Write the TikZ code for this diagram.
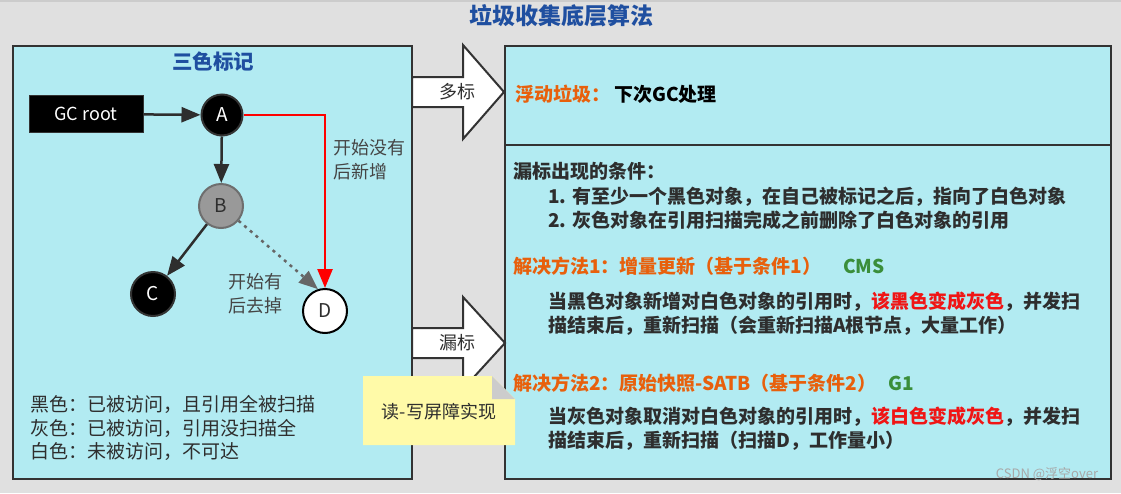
\documentclass[tikz,border=0pt]{standalone}
\usepackage{fontspec}
\setmainfont{Noto Sans CJK SC}
\usetikzlibrary{arrows.meta}
\definecolor{bgc}{HTML}{E0E0E0}
\definecolor{panelc}{HTML}{B2EBF2}
\definecolor{edgec}{HTML}{333333}
\definecolor{darkc}{HTML}{2E2E2E}
\definecolor{labelc}{HTML}{454545}
\definecolor{titlec}{HTML}{1F4FA0}
\definecolor{orangec}{HTML}{E8600C}
\definecolor{greenc}{HTML}{3A8E3A}
\definecolor{redc}{HTML}{FF0000}
\definecolor{redtxt}{HTML}{F01515}
\definecolor{notec}{HTML}{FFFAA8}
\definecolor{foldc}{HTML}{CCCCCC}
\definecolor{bgray}{HTML}{999999}
\definecolor{bedge}{HTML}{6E6E6E}
\definecolor{dotc}{HTML}{666666}
\definecolor{markc}{HTML}{A8A8A8}
\tikzset{
  panel/.style={draw=edgec, line width=2pt, fill=panelc},
  body/.style={font=\fontsize{19}{23.5}\selectfont, text=darkc, inner sep=0pt, anchor=west, align=left},
  bodyb/.style={body, font=\fontsize{19}{23.5}\selectfont\bfseries},
  circ/.style={circle, minimum size=44pt, inner sep=0pt, line width=2pt, font=\fontsize{19}{19}\selectfont},
  tip/.style={-{Triangle[length=19pt,width=15pt]}},
  arr/.style={tip, line width=2.5pt, draw=darkc},
  blockarrow/.style={fill=white, draw=edgec, line width=2pt, line join=miter},
  lbl/.style={font=\fontsize{18}{24}\selectfont, text=labelc, inner sep=0pt, align=left, anchor=west}
}
\begin{document}
\begin{tikzpicture}[x=1pt,y=-1pt]
\useasboundingbox (0,0) rectangle (1121,493);
\fill[bgc] (0,0) rectangle (1121,493);
\draw[foldc, line width=2pt] (0,1) -- (1121,1);

% title
\node[font=\fontsize{23}{23}\selectfont\bfseries, text=titlec, inner sep=0pt] (title) at (561,16) {垃圾收集底层算法};

% panels
\draw[panel] (13,46) rectangle (412,479);
\draw[panel] (505,46) rectangle (1111,145);
\draw[panel] (505,145) rectangle (1111,479);

% left panel
\node[font=\fontsize{20.5}{20.5}\selectfont\bfseries, text=titlec, inner sep=0pt] (sub) at (213,62) {三色标记};
\node[fill=black, draw=edgec, line width=1pt, minimum width=114pt, minimum height=37pt, text=white, font=\fontsize{18}{18}\selectfont, inner sep=0pt] (gc) at (86,114) {GC root};
\node[circ, fill=black, draw=edgec, minimum size=41pt, text=white] (A) at (222,115) {A};
\node[circ, fill=bgray, draw=bedge, text=darkc] (B) at (221,206) {B};
\node[circ, fill=black, draw=edgec, text=white] (C) at (153,294) {C};
\node[circ, fill=white, draw=black, text=darkc] (D) at (325,311) {D};

\draw[arr] (gc) -- (A);
\draw[arr] (A) -- (B);
\draw[arr] (B) -- (C);
\draw[tip, line width=2.5pt, draw=dotc, dash pattern=on 3pt off 4.5pt] (B.-40) -- (D.108);
\draw[tip, line width=2.5pt, draw=redc] (A.east) -| (D.north);

\node[lbl] (l1) at (333,160) {开始没有\\后新增};
\node[lbl] (l2) at (228,294) {开始有\\后去掉};

\node[body] (legend) at (30,428) {黑色：已被访问，且引用全被扫描\\灰色：已被访问，引用没扫描全\\白色：未被访问，不可达};

% block arrows
\filldraw[blockarrow] (412,77) -- (463,77) -- (463,45) -- (504,92) -- (463,139) -- (463,107) -- (412,107) -- cycle;
\node[font=\fontsize{18}{18}\selectfont, text=darkc, inner sep=0pt] (duo) at (457,92) {多标};
\filldraw[blockarrow] (412,328) -- (463,328) -- (463,297) -- (505,343) -- (463,389) -- (463,358) -- (412,358) -- cycle;
\node[font=\fontsize{18}{18}\selectfont, text=darkc, inner sep=0pt] (lou) at (457,343) {漏标};

% top right
\node[bodyb, text=black] (fl) at (515,94) {{\color{orangec}浮动垃圾：}\hspace{4pt}下次GC处理};

% bottom right
\node[bodyb] (cond) at (513,171) {漏标出现的条件：};
\node[bodyb] (c1) at (548,197) {1. 有至少一个黑色对象，在自己被标记之后，指向了白色对象};
\node[bodyb] (c2) at (548,220) {2. 灰色对象在引用扫描完成之前删除了白色对象的引用};
\node[bodyb, text=orangec] (m1) at (513,266) {解决方法1：增量更新（基于条件1）};
\node[bodyb, text=greenc] (cms) at (843,266) {CMS};
\node[bodyb] (m1a) at (548,302) {当黑色对象新增对白色对象的引用时，{\color{redtxt}该黑色变成灰色}，并发扫};
\node[bodyb] (m1b) at (548,326) {描结束后，重新扫描（会重新扫描A根节点，大量工作）};
\node[bodyb, text=orangec] (m2) at (513,383) {解决方法2：原始快照-SATB（基于条件2）};
\node[bodyb, text=greenc] (g1) at (888,383) {G1};
\node[bodyb] (m2a) at (548,417) {当灰色对象取消对白色对象的引用时，{\color{redtxt}该白色变成灰色}，并发扫};
\node[bodyb] (m2b) at (548,441) {描结束后，重新扫描（扫描D，工作量小）};

% note
\fill[notec] (363,376) -- (492,376) -- (515,399) -- (515,445) -- (363,445) -- cycle;
\fill[foldc] (492,376) -- (492,399) -- (515,399) -- cycle;
\node[font=\fontsize{18}{18}\selectfont, text=darkc, inner sep=0pt] (note) at (439,412) {读-写屏障实现};

% watermark
\node[font=\fontsize{13}{13}\selectfont, text=markc, inner sep=0pt] (wm) at (1047,474) {CSDN @浮空over};
\end{tikzpicture}
\end{document}
